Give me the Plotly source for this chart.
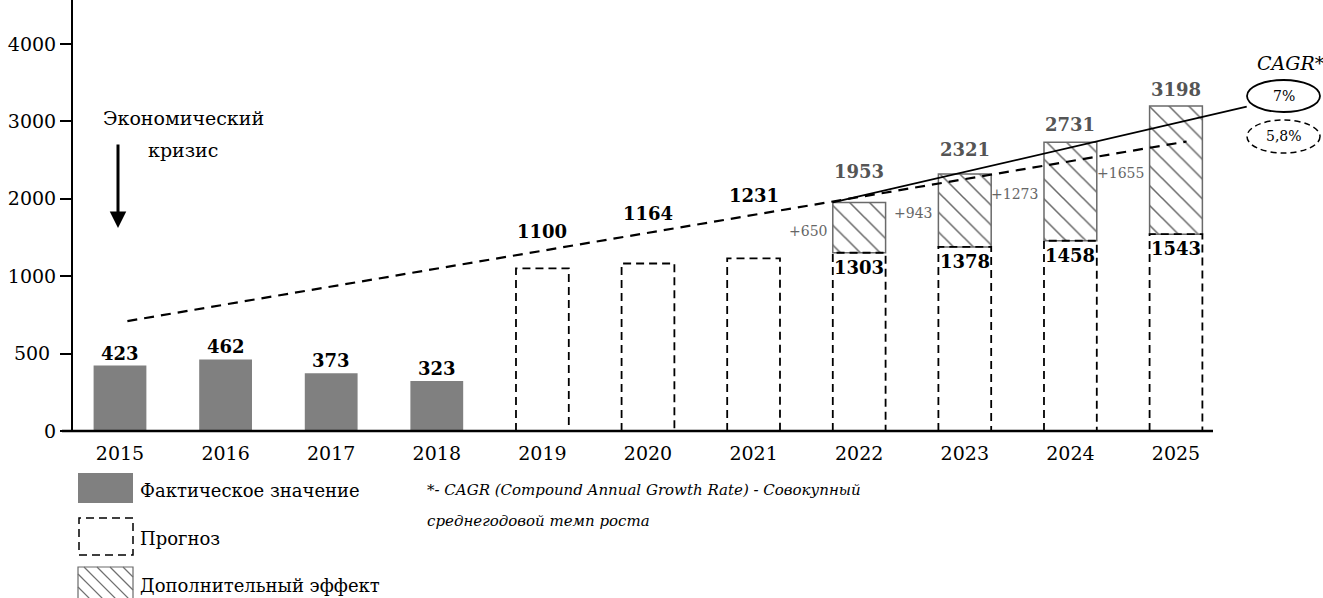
import numpy as np
import plotly.graph_objects as go

# ---------------- data ----------------
years = [2015, 2016, 2017, 2018, 2019, 2020, 2021, 2022, 2023, 2024, 2025]
actual_years = [2015, 2016, 2017, 2018]
actual_values = [423, 462, 373, 323]
forecast_years = [2019, 2020, 2021, 2022, 2023, 2024, 2025]
forecast_values = [1100, 1164, 1231, 1303, 1378, 1458, 1543]
effect_years = [2022, 2023, 2024, 2025]
effect_totals = [1953, 2321, 2731, 3198]
effect_gains = [650, 943, 1273, 1655]
y_tick_values = [0, 500, 1000, 2000, 3000, 4000]
trend_dash_values = [710, 2740]     # CAGR 5,8% line, 2015 -> 2025
trend_solid_values = [1953, 3190]   # CAGR 7% line, 2022 -> past 2025
cagr_labels = ["7%", "5,8%"]
legend_labels = ["Фактическое значение", "Прогноз", "Дополнительный эффект"]

FONT = "DejaVu Serif"


def scale(v):
    """Broken value axis: 0-1000 in steps of 500, then steps of 1000."""
    v = np.asarray(v, dtype=float)
    return np.where(v <= 1000, v / 500.0, 2.0 + (v - 1000.0) / 1000.0)


def idx(yrs):
    return np.asarray(yrs, dtype=float) - years[0]


# pixel helpers for layout placement
L, R, T, B = 73, 1323, 0, 431


def px_x(p):
    return (p - L) / (R - L)


def px_y(p):
    return (B - p) / (B - T)


BW = 0.5
fig = go.Figure()

# actual bars
fig.add_trace(go.Bar(x=idx(actual_years), y=scale(actual_values), width=BW,
                     marker=dict(color="#808080", line=dict(width=0)),
                     showlegend=False))
# forecast bars (white fill)
fig.add_trace(go.Bar(x=idx(forecast_years), y=scale(forecast_values), width=BW,
                     marker=dict(color="white", line=dict(width=0)),
                     showlegend=False))
# additional effect (hatched)
eff_base = scale(forecast_values[-len(effect_years):])
eff_top = scale(effect_totals)
fig.add_trace(go.Bar(x=idx(effect_years), y=eff_top - eff_base, base=eff_base, width=BW,
                     marker=dict(color="white",
                                 line=dict(width=1.5, color="#6a6a6a"),
                                 pattern=dict(shape="\\", fgcolor="#6a6a6a", bgcolor="white",
                                              size=14, solidity=0.11, fillmode="replace")),
                     showlegend=False))

# dashed outline of forecast bars
xs, ys = [], []
for xi, p in zip(idx(forecast_years), scale(forecast_values)):
    xs += [xi - BW / 2, xi - BW / 2, xi + BW / 2, xi + BW / 2, None]
    ys += [0, p, p, 0, None]
fig.add_trace(go.Scatter(x=xs, y=ys, mode="lines",
                         line=dict(color="black", width=1.8, dash="8px,5px"),
                         showlegend=False, hoverinfo="skip"))

# trend lines
td_x = [idx([years[0]])[0] + 0.07, idx([years[-1]])[0] + 0.1]
td_y = scale(trend_dash_values)
fig.add_trace(go.Scatter(x=td_x, y=td_y, mode="lines",
                         line=dict(color="black", width=2.2, dash="10px,7px"),
                         showlegend=False, hoverinfo="skip"))
ts_x = [idx([effect_years[0]])[0] - BW / 2, idx([effect_years[-1]])[0] + 0.67]
fig.add_trace(go.Scatter(x=ts_x, y=scale(trend_solid_values), mode="lines",
                         line=dict(color="black", width=1.8),
                         showlegend=False, hoverinfo="skip"))

ann = []
# labels on actual bars
for xi, v in zip(idx(actual_years), actual_values):
    ann.append(dict(x=xi, y=float(scale(v)), text=f"<b>{v}</b>", showarrow=False,
                    xanchor="center", yanchor="bottom", yshift=0,
                    font=dict(size=18, color="black", family=FONT)))
# labels for forecast 2019-2021 above the dashed trend line
for yr, v in zip(forecast_years[:3], forecast_values[:3]):
    xi = idx([yr])[0]
    yline = np.interp(xi, td_x, td_y)
    ann.append(dict(x=xi, y=float(yline), text=f"<b>{v}</b>", showarrow=False,
                    xanchor="center", yanchor="middle", yshift=19,
                    font=dict(size=18, color="black", family=FONT)))
# base labels for 2022-2025
for yr, v in zip(forecast_years[3:], forecast_values[3:]):
    ann.append(dict(x=idx([yr])[0], y=float(scale(v)), text=f"<b>{v}</b>", showarrow=False,
                    xanchor="center", yanchor="top", yshift=-2,
                    font=dict(size=18, color="black", family=FONT)))
# totals
tot_shift = [18, 12, 5, 4]
for yr, v, sh in zip(effect_years, effect_totals, tot_shift):
    ann.append(dict(x=idx([yr])[0], y=float(scale(v)), text=f"<b>{v}</b>", showarrow=False,
                    xanchor="center", yanchor="bottom", yshift=sh,
                    font=dict(size=18, color="#555555", family=FONT)))
# gains
for yr, g, b0, t0 in zip(effect_years, effect_gains, eff_base, eff_top):
    ann.append(dict(x=idx([yr])[0] - BW / 2, y=float((b0 + t0) / 2), text=f"+{g}", showarrow=False,
                    xanchor="right", yanchor="middle", xshift=-4, yshift=-3,
                    font=dict(size=14, color="#666666", family=FONT)))


def ptext(x, y, text, size, xanchor="center", color="black"):
    return dict(xref="paper", yref="paper", x=px_x(x), y=px_y(y), text=text,
                xanchor=xanchor, yanchor="middle", showarrow=False,
                font=dict(size=size, color=color, family=FONT))


# economic crisis
ann.append(ptext(183, 118, "Экономический", 19))
ann.append(ptext(183, 150, "кризис", 19))
ann.append(dict(xref="paper", yref="paper", x=px_x(118), y=px_y(228), text="",
                showarrow=True, ax=0, ay=-85, arrowhead=2, arrowsize=1.1, arrowwidth=3,
                arrowcolor="black"))

# CAGR
ann.append(ptext(1291, 63, "<i>CAGR*</i>", 19))
ann.append(ptext(1284, 96, cagr_labels[0], 14))
ann.append(ptext(1284, 136, cagr_labels[1], 14))

# footnote
ann.append(ptext(425, 490, "<i>*- CAGR (Compound Annual Growth Rate) - Совокупный</i>", 15, "left"))
ann.append(ptext(425, 521, "<i>среднегодовой темп роста</i>", 15, "left"))

# legend labels
for lab, cy in zip(legend_labels, [490, 538, 585]):
    ann.append(ptext(138, cy, lab, 18, "left"))

shapes = []
# x baseline
shapes.append(dict(type="line", xref="paper", yref="paper", x0=px_x(62), x1=px_x(1213),
                   y0=0, y1=0, line=dict(color="black", width=2.5)))
# ellipses
shapes.append(dict(type="circle", xref="paper", yref="paper", x0=px_x(1247), x1=px_x(1320),
                   y0=px_y(112), y1=px_y(80), line=dict(color="black", width=1.8)))
shapes.append(dict(type="circle", xref="paper", yref="paper", x0=px_x(1247), x1=px_x(1320),
                   y0=px_y(153), y1=px_y(120), line=dict(color="black", width=1.5, dash="6px,4px")))
# legend icons
shapes.append(dict(type="rect", xref="paper", yref="paper", x0=px_x(78), x1=px_x(133),
                   y0=px_y(503), y1=px_y(473), fillcolor="#808080", line=dict(width=0)))
shapes.append(dict(type="rect", xref="paper", yref="paper", x0=px_x(79), x1=px_x(133),
                   y0=px_y(555), y1=px_y(518), fillcolor="white",
                   line=dict(color="black", width=1.5, dash="8px,5px")))
hx0, hx1, hy0, hy1 = 78, 133, 567, 600
shapes.append(dict(type="rect", xref="paper", yref="paper", x0=px_x(hx0), x1=px_x(hx1),
                   y0=px_y(hy1), y1=px_y(hy0), fillcolor="white",
                   line=dict(color="#6a6a6a", width=1.2)))
step = 13
for s in range(hx0 - (hy1 - hy0), hx1, step):
    x_a, y_a = s, hy0
    x_b, y_b = s + (hy1 - hy0), hy1
    if x_a < hx0:
        y_a += hx0 - x_a
        x_a = hx0
    if x_b > hx1:
        y_b -= x_b - hx1
        x_b = hx1
    if x_b <= x_a:
        continue
    shapes.append(dict(type="line", xref="paper", yref="paper", x0=px_x(x_a), y0=px_y(y_a),
                       x1=px_x(x_b), y1=px_y(y_b), line=dict(color="#707070", width=1.2)))

fig.update_layout(
    width=1323, height=598,
    margin=dict(l=L, r=1323 - R, t=T, b=598 - B),
    paper_bgcolor="white", plot_bgcolor="white",
    barmode="overlay", showlegend=False,
    font=dict(family=FONT, size=19, color="black"),
    xaxis=dict(range=[-0.445, -0.445 + (R - L) / 105.6],
               tickvals=list(idx(years)), ticktext=[str(y) for y in years],
               showline=False, showgrid=False, zeroline=False,
               ticks="outside", ticklen=5, tickcolor="rgba(0,0,0,0)",
               tickfont=dict(size=19, family=FONT, color="black")),
    yaxis=dict(range=[0, (B - T) / 77.4],
               tickvals=list(scale(y_tick_values)),
               ticktext=[("500\u00a0" if v == 500 else str(v)) for v in y_tick_values],
               showline=True, linewidth=2, linecolor="black", showgrid=False, zeroline=False,
               ticks="outside", ticklen=11, tickwidth=1.5, tickcolor="black",
               tickfont=dict(size=19, family=FONT, color="black")),
    annotations=ann, shapes=shapes,
)

fig.write_html("out.html", config={"displayModeBar": False},
               post_script="document.body.style.margin='0';")
